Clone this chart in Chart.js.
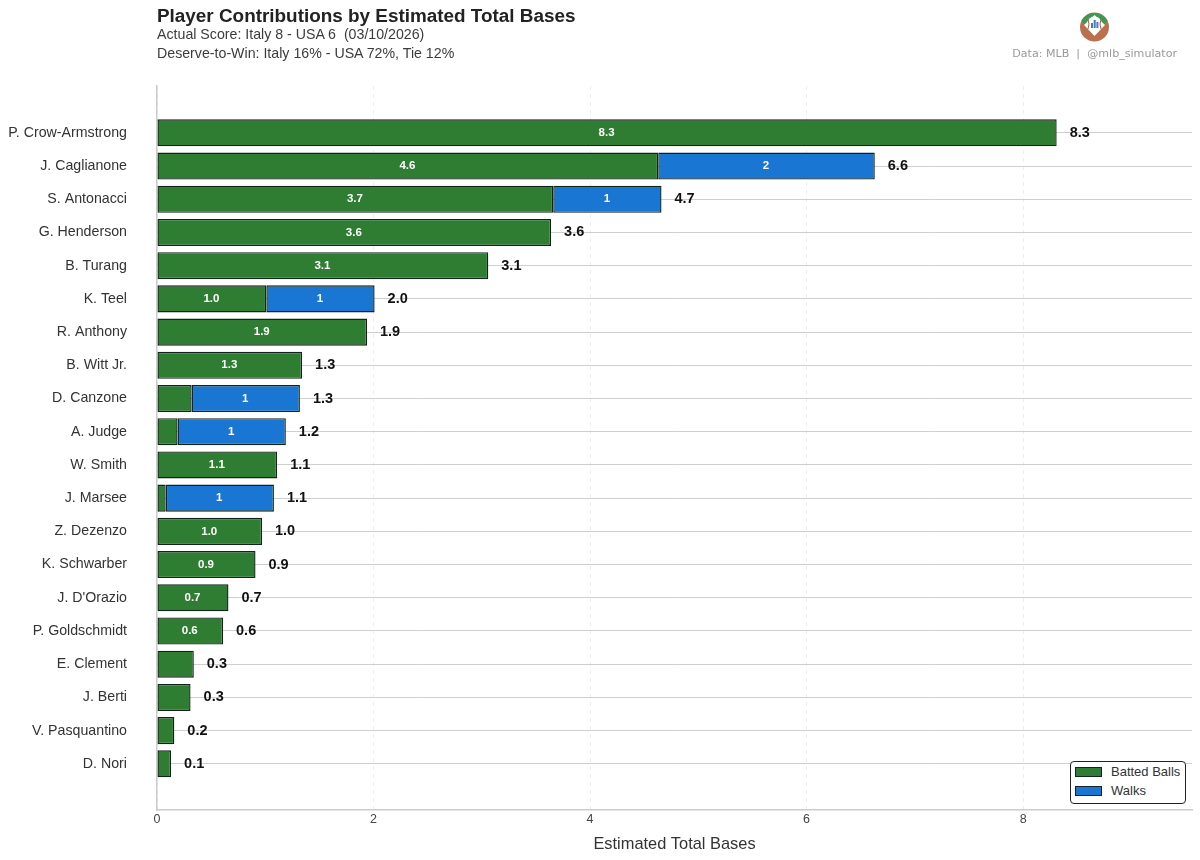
<!DOCTYPE html>
<html>
<head>
<meta charset="utf-8">
<title>Player Contributions by Estimated Total Bases</title>
<script src="https://cdn.jsdelivr.net/npm/chart.js@4"></script>
<style>
  html, body { margin: 0; padding: 0; background: #fff; }
  #wrap { position: relative; width: 1200px; height: 860px; font-family: "Liberation Sans", sans-serif; overflow: hidden; }
  #chart-canvas { position: absolute; left: 0; top: 0; }
  .txt { position: absolute; white-space: pre; }
  #title { left: 157px; top: 5px; font-size: 18.9px; font-weight: bold; color: #222; }
  #sub1 { left: 157px; top: 26px; font-size: 14.2px; color: #3c3c3c; }
  #sub2 { left: 157px; top: 45px; font-size: 14.2px; color: #3c3c3c; }
  #source { right: 23px; top: 47px; font-family: "DejaVu Sans", sans-serif; font-size: 11.1px; color: #999; }
  #logo { position: absolute; left: 1080px; top: 12px; }
  #legend { position: absolute; left: 1070px; top: 761px; width: 114px; height: 41px; background: #fff; border: 1.5px solid #222; border-radius: 4px; font-size: 13px; color: #333; }
  .leg-row { position: absolute; left: 4px; height: 16px; line-height: 16px; }
  .leg-box { position: absolute; left: 0; top: 2px; width: 25px; height: 8px; border: 1px solid #123; }
  .leg-text { position: absolute; left: 36px; top: -1px; white-space: pre; }
</style>
</head>
<body>
<div id="wrap">
  <canvas id="chart-canvas" width="1200" height="860"></canvas>
  <div class="txt" id="title">Player Contributions by Estimated Total Bases</div>
  <div class="txt" id="sub1">Actual Score: Italy 8 - USA 6  (03/10/2026)</div>
  <div class="txt" id="sub2">Deserve-to-Win: Italy 16% - USA 72%, Tie 12%</div>
  <svg id="logo" width="29" height="30" viewBox="0 0 29 30">
    <circle cx="14.5" cy="15" r="14.5" fill="#b9704f"/>
    <path d="M1.5 9 A14.5 14.5 0 0 1 27.5 9 L22 15 H7 Z" fill="#3f9a4f"/>
    <path d="M14.5 24 L4 13 L14.5 3 L25 13 Z" fill="#fff"/>
    <circle cx="14.5" cy="12" r="7.5" fill="#fff"/>
    <path d="M8 7 Q10 12 8 17 M21 7 Q19 12 21 17" fill="none" stroke="#c65050" stroke-width="1"/>
    <rect x="11" y="11" width="2" height="5" fill="#3b7fc4"/>
    <rect x="13.7" y="8" width="2" height="8" fill="#3b7fc4"/>
    <rect x="16.4" y="10" width="2" height="6" fill="#3b7fc4"/>
  </svg>
  <div class="txt" id="source">Data: MLB  |  @mlb_simulator</div>
  <div id="legend"></div>
</div>
<script>
const players = ['P. Crow-Armstrong', 'J. Caglianone', 'S. Antonacci', 'G. Henderson', 'B. Turang',
  'K. Teel', 'R. Anthony', 'B. Witt Jr.', 'D. Canzone', 'A. Judge', 'W. Smith', 'J. Marsee',
  'Z. Dezenzo', 'K. Schwarber', "J. D'Orazio", 'P. Goldschmidt', 'E. Clement', 'J. Berti',
  'V. Pasquantino', 'D. Nori'];
const battedBalls = [8.31, 4.63, 3.66, 3.64, 3.06, 1.01, 1.94, 1.34, 0.32, 0.19, 1.11, 0.08,
  0.97, 0.91, 0.66, 0.61, 0.34, 0.31, 0.16, 0.13];
const walks = [0, 2, 1, 0, 0, 1, 0, 0, 1, 1, 0, 1, 0, 0, 0, 0, 0, 0, 0, 0];
const xTicks = [0, 2, 4, 6, 8];

const GREEN = '#2e7d32';
const BLUE = '#1976d2';
const LABEL_FONT = '"Liberation Sans", sans-serif';

// inner segment values and the bold totals at the end of each bar
const barLabels = {
  id: 'barLabels',
  afterDatasetsDraw(chart) {
    const ctx = chart.ctx;
    const greenBars = chart.getDatasetMeta(0).data;
    const blueBars = chart.getDatasetMeta(1).data;
    ctx.save();
    ctx.textBaseline = 'middle';
    players.forEach((name, i) => {
      const green = greenBars[i];
      const blue = blueBars[i];
      ctx.fillStyle = '#fff';
      ctx.font = 'bold 11.5px ' + LABEL_FONT;
      ctx.textAlign = 'center';
      if (battedBalls[i] >= 0.5) {
        ctx.fillText(battedBalls[i].toFixed(1), (green.x + green.base) / 2 - 0.5, green.y);
      }
      if (walks[i] > 0) {
        ctx.fillText(String(walks[i]), (blue.x + blue.base) / 2 - 0.5, blue.y);
      }
      ctx.fillStyle = '#111';
      ctx.font = 'bold 14.5px ' + LABEL_FONT;
      ctx.textAlign = 'left';
      const end = walks[i] > 0 ? blue.x : green.x;
      ctx.fillText((battedBalls[i] + walks[i]).toFixed(1), end + 13, green.y);
    });
    ctx.restore();
  }
};

const chart = new Chart(document.getElementById('chart-canvas'), {
  type: 'bar',
  data: {
    datasets: [
      {
        label: 'Batted Balls',
        data: players.map((name, i) => ({ x: battedBalls[i], y: i })),
        backgroundColor: GREEN,
        borderColor: '#10241a',
        borderWidth: 1.4,
        borderSkipped: false,
      },
      {
        label: 'Walks',
        data: players.map((name, i) => ({ x: walks[i], y: i })),
        backgroundColor: BLUE,
        borderColor: '#10241a',
        borderWidth: walks.map(w => (w > 0 ? 1.4 : 0)),
        borderSkipped: false,
      },
    ],
  },
  options: {
    indexAxis: 'y',
    responsive: false,
    animation: false,
    categoryPercentage: 1,
    barPercentage: 0.815,
    layout: { padding: { top: 86, right: 8, left: 0, bottom: 0 } },
    scales: {
      x: {
        type: 'linear',
        stacked: true,
        min: 0,
        max: 9.56,
        bounds: 'data',
        afterBuildTicks: scale => { scale.ticks = xTicks.map(v => ({ value: v })); },
        afterFit: scale => { scale.height = 50; },
        grid: { color: '#eeeeee', drawTicks: false },
        border: { color: '#cccccc', width: 1.5, dash: [4, 4] },
        ticks: { color: '#444', padding: 2, font: { family: LABEL_FONT, size: 12.5 } },
        title: {
          display: true,
          text: 'Estimated Total Bases',
          color: '#333',
          font: { family: LABEL_FONT, size: 16.4 },
          padding: { top: 8, bottom: 6 },
        },
      },
      y: {
        type: 'linear',
        stacked: true,
        reverse: true,
        offset: false,
        min: -1.41,
        max: 20.39,
        bounds: 'data',
        afterBuildTicks: scale => { scale.ticks = players.map((name, i) => ({ value: i })); },
        afterFit: scale => { scale.width = 157; },
        grid: { color: '#cfcfcf', drawTicks: false, offset: false },
        border: { color: '#cccccc', width: 1.5 },
        ticks: {
          autoSkip: false,
          color: '#333',
          padding: 30,
          font: { family: LABEL_FONT, size: 14.2 },
          callback: value => players[value],
        },
      },
    },
    plugins: {
      legend: { display: false },
      tooltip: { enabled: false },
    },
  },
  plugins: [barLabels],
});

// legend box built from the chart's own datasets
const legendEl = document.getElementById('legend');
chart.data.datasets.forEach((ds, i) => {
  const row = document.createElement('div');
  row.className = 'leg-row';
  row.style.top = (3 + i * 19) + 'px';
  row.innerHTML = '<span class="leg-box" style="background:' + ds.backgroundColor + '"></span>' +
    '<span class="leg-text">' + ds.label + '</span>';
  legendEl.appendChild(row);
});
</script>
</body>
</html>
